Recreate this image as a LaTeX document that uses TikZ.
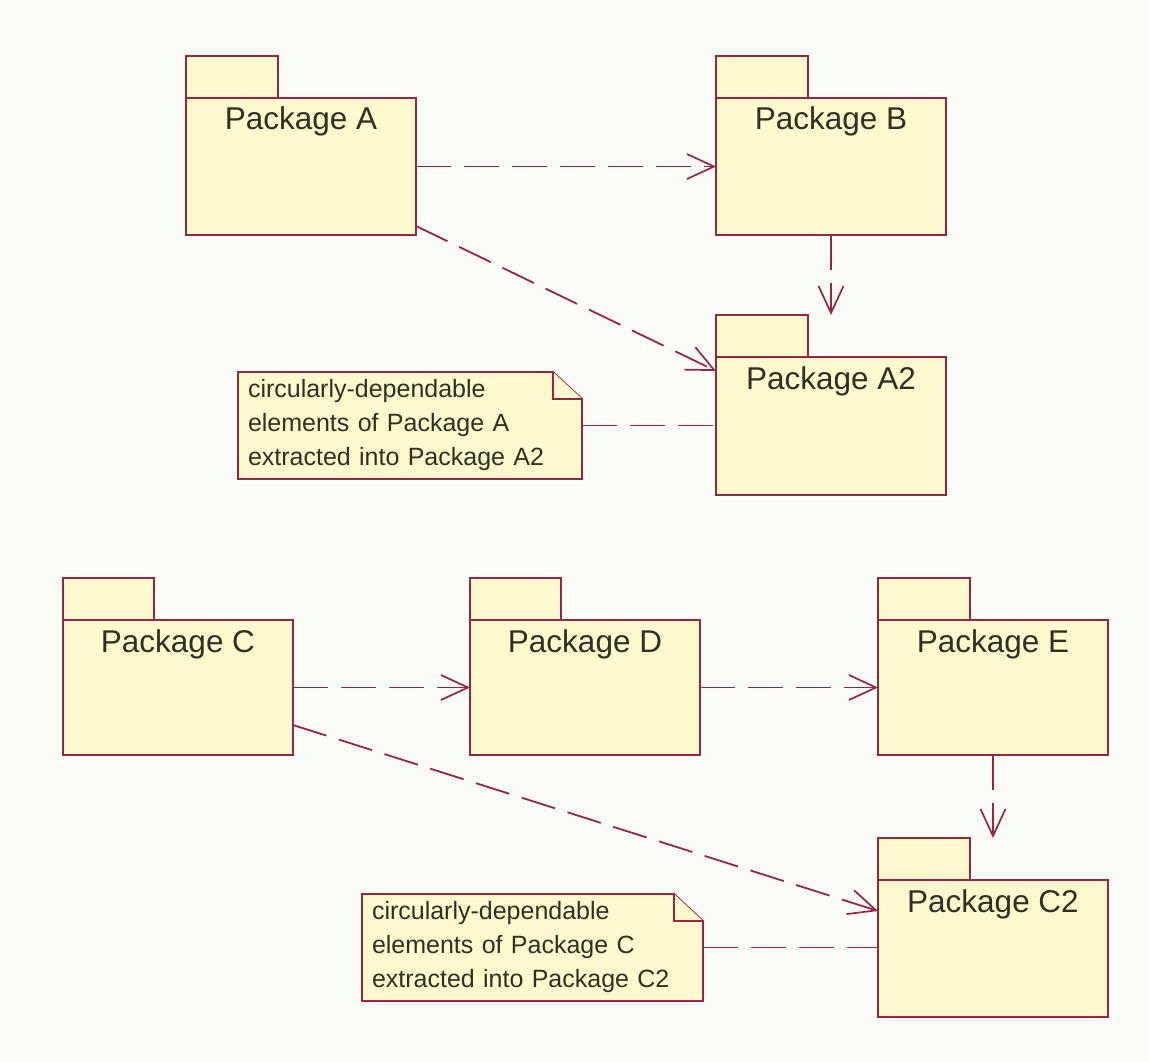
\documentclass[tikz,border=0pt]{standalone}
\usepackage{fontspec}
\setmainfont{Liberation Sans}
\usetikzlibrary{arrows.meta,backgrounds}

\definecolor{umlline}{RGB}{150,38,66}
\definecolor{umlfill}{RGB}{254,250,206}
\definecolor{umltext}{RGB}{48,48,34}
\definecolor{paper}{RGB}{250,252,248}

\begin{document}
\begin{tikzpicture}[x=1pt,y=-1pt,
  % package body: label baseline 32pt below the top edge, #1 = remaining depth
  pkg/.style={draw=umlline, fill=umlfill, line width=1.8pt, inner sep=0pt,
    outer sep=0pt, anchor=north west, minimum width=230pt,
    text height=32pt, text depth=#1, text=umltext,
    font=\fontsize{31.5}{36}\selectfont},
  tab/.style={draw=umlline, fill=umlfill, line width=1.8pt},
  note/.style={anchor=north west, inner xsep=10pt, inner ysep=0pt,
    outer sep=0pt, text width=#1, align=left, text=umltext,
    font=\fontsize{25}{34}\selectfont},
  noteline/.style={draw=umlline, fill=umlfill, line width=1.8pt, line join=miter},
  dep/.style={draw=umlline, line width=1.8pt, dash pattern=on 35pt off 13pt,
    -{Straight Barb[length=27pt, width=25pt, line width=1.7pt]}},
  anchorline/.style={draw=umlline, line width=1.8pt, dash pattern=on 35pt off 13pt},
]
\useasboundingbox (0,0) rectangle (1149,1062);

% ---- upper group -------------------------------------------------------
\node[pkg=105pt] (A)  at (186,98)  {Package A};
\draw[tab] (A.north west) rectangle ++(92,-42);
\node[pkg=105pt] (B)  at (716,98)  {Package B};
\draw[tab] (B.north west) rectangle ++(92,-42);
\node[pkg=106pt] (A2) at (716,357) {Package A2};
\draw[tab] (A2.north west) rectangle ++(92,-42);

\node[note=324pt, minimum height=107pt] (nA) at (238,372)
  {circularly-dependable\\elements of Package A\\extracted into Package A2};

% ---- lower group -------------------------------------------------------
\node[pkg=103pt] (C)  at (63,620)  {Package C};
\draw[tab] (C.north west) rectangle ++(91,-42);
\node[pkg=103pt] (D)  at (470,620) {Package D};
\draw[tab] (D.north west) rectangle ++(91,-42);
\node[pkg=103pt] (E)  at (878,620) {Package E};
\draw[tab] (E.north west) rectangle ++(92,-42);
\node[pkg=105pt] (C2) at (878,880) {Package C2};
\draw[tab] (C2.north west) rectangle ++(92,-42);

\node[note=321pt, minimum height=107pt] (nC) at (362,894)
  {circularly-dependable\\elements of Package C\\extracted into Package C2};

% note outlines with folded corner, behind the note text
\begin{scope}[on background layer]
  \fill[paper] (0,0) rectangle (1149,1062);
  \foreach \n in {nA,nC}{
    \draw[noteline] (\n.north west) -- ([xshift=-29pt]\n.north east)
      -- ([yshift=-27pt]\n.north east) -- (\n.south east)
      -- (\n.south west) -- cycle;
    \draw[noteline] ([xshift=-29pt]\n.north east) |- ([yshift=-27pt]\n.north east);
  }
\end{scope}

% free ends of the downward dependencies (beside the tabs)
\coordinate (A2top) at ([yshift=42pt]A2.north);
\coordinate (C2top) at ([yshift=42pt]C2.north);

% ---- dependencies ------------------------------------------------------
\draw[dep] (A) -- (B);
\draw[dep] ([yshift=9pt]A.south east) -- ([yshift=-14pt]A2.north west);
\draw[dep] (B.south) -- (A2top);
\draw[anchorline] (nA.east) -- (nA.east -| A2.west);

\draw[dep] (C) -- (D);
\draw[dep] (D) -- (E);
\draw[dep] ([yshift=30pt]C.south east) -- ([yshift=-31pt]C2.north west);
\draw[dep] (E.south) -- (C2top);
\draw[anchorline] (nC.east) -- (nC.east -| C2.west);
\end{tikzpicture}
\end{document}
